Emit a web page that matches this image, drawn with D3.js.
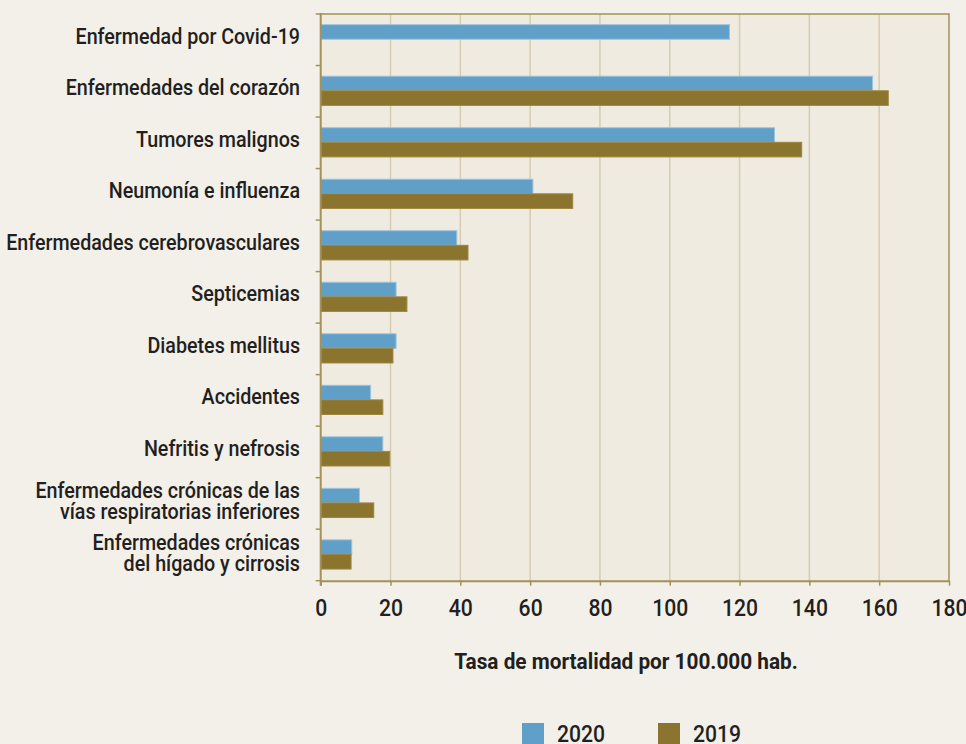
<!DOCTYPE html>
<html>
<head>
<meta charset="utf-8">
<script src="https://cdn.jsdelivr.net/npm/d3@7"></script>
<style>
  body { margin: 0; background: #f3f0e9; }
  svg { display: block; font-family: Roboto, "Liberation Sans", sans-serif; }
</style>
</head>
<body>
<svg id="chart"></svg>
<script>
// DATA
const categories = [
  "Enfermedad por Covid-19",
  "Enfermedades del corazón",
  "Tumores malignos",
  "Neumonía e influenza",
  "Enfermedades cerebrovasculares",
  "Septicemias",
  "Diabetes mellitus",
  "Accidentes",
  "Nefritis y nefrosis",
  "Enfermedades crónicas de las|vías respiratorias inferiores",
  "Enfermedades crónicas|del hígado y cirrosis"
];
const values2020 = [117.1, 158.1, 130.0, 60.8, 39.0, 21.6, 21.6, 14.3, 17.8, 11.1, 8.9];
const values2019 = [null, 162.6, 137.8, 72.2, 42.2, 24.7, 20.7, 17.8, 19.8, 15.2, 8.7];
const xTicks = [0, 20, 40, 60, 80, 100, 120, 140, 160, 180];
const seriesNames = ["2020", "2019"];
const seriesColors = ["#5f9fc8", "#8a742e"];

// SVG
const W = 966, H = 744;
const plot = { left: 320.7, right: 949, top: 14, bottom: 580.7 };
const svg = d3.select("#chart").attr("width", W).attr("height", H);

const x = d3.scaleLinear().domain([0, 180]).range([plot.left, plot.right]);
const y = d3.scaleBand().domain(categories).range([plot.top, plot.bottom]);
const barH = 14.6;

// plot background
svg.append("rect")
  .attr("x", plot.left).attr("y", plot.top)
  .attr("width", plot.right - plot.left).attr("height", plot.bottom - plot.top)
  .attr("fill", "#efebe1");

// gridlines
svg.append("g").selectAll("line")
  .data(xTicks.slice(1, -1))
  .enter().append("line")
  .attr("x1", d => x(d)).attr("x2", d => x(d))
  .attr("y1", plot.top).attr("y2", plot.bottom)
  .attr("stroke", "#d6ccb1").attr("stroke-width", 1.5);

// bars
const rows = categories.map((c, i) => ({ c, v20: values2020[i], v19: values2019[i] }));
const g = svg.append("g");
g.selectAll("rect.b20")
  .data(rows)
  .enter().append("rect")
  .attr("class", "b20")
  .attr("x", x(0))
  .attr("y", d => y(d.c) + y.bandwidth() / 2 - barH - 0.5)
  .attr("width", d => x(d.v20) - x(0))
  .attr("height", barH)
  .attr("fill", seriesColors[0])
  .attr("stroke", "#9fc4dc").attr("stroke-width", 1);

g.selectAll("rect.b19")
  .data(rows.filter(d => d.v19 != null))
  .enter().append("rect")
  .attr("class", "b19")
  .attr("x", x(0))
  .attr("y", d => y(d.c) + y.bandwidth() / 2 - 0.5)
  .attr("width", d => x(d.v19) - x(0))
  .attr("height", barH)
  .attr("fill", seriesColors[1])
  .attr("stroke", "#9c8640").attr("stroke-width", 1);

// frame top/right
svg.append("path")
  .attr("d", `M${plot.left},${plot.top}H${plot.right}V${plot.bottom}`)
  .attr("fill", "none").attr("stroke", "#a39158").attr("stroke-width", 1.5);

// x axis
const xAxis = svg.append("g")
  .attr("transform", `translate(0,${plot.bottom})`)
  .call(d3.axisBottom(x).tickValues(xTicks).tickSize(5).tickSizeOuter(0));
xAxis.select(".domain").attr("stroke", "#a39158").attr("stroke-width", 2);
xAxis.selectAll(".tick line").attr("stroke", "#a39158").attr("stroke-width", 1.5);
xAxis.selectAll(".tick text").remove();
xAxis.selectAll(".tick").append("text")
  .attr("transform", "translate(0,35) scale(0.9,1)")
  .attr("text-anchor", "middle")
  .attr("fill", "#231f20").attr("font-size", "23.5px").attr("font-weight", 500)
  .attr("font-family", "Roboto, sans-serif")
  .text(d => d);

// y axis: ticks at band boundaries
const bounds = categories.map(c => y(c)).concat([plot.bottom]);
svg.append("g").selectAll("line")
  .data(bounds)
  .enter().append("line")
  .attr("x1", plot.left - 5).attr("x2", plot.left)
  .attr("y1", d => d).attr("y2", d => d)
  .attr("stroke", "#a39158").attr("stroke-width", 1.5);
svg.append("line")
  .attr("x1", plot.left).attr("x2", plot.left)
  .attr("y1", plot.top - 1).attr("y2", plot.bottom + 5)
  .attr("stroke", "#a39158").attr("stroke-width", 2);

// category labels
const lab = svg.append("g").selectAll("text")
  .data(categories)
  .enter().append("text")
  .attr("text-anchor", "end")
  .attr("font-size", "22.5px").attr("font-weight", 500)
  .attr("fill", "#231f20")
  .attr("transform", d => {
    const n = d.split("|").length;
    const ty = y(d) + y.bandwidth() / 2 + 4 - (n - 1) * 9;
    return `translate(300,${ty}) scale(0.875,1)`;
  });
lab.each(function(d) {
  const t = d3.select(this);
  d.split("|").forEach((line, i) => {
    t.append("tspan").attr("x", 0).attr("dy", i === 0 ? 0 : 21).text(line);
  });
});

// axis title
svg.append("text")
  .attr("transform", "translate(626,669) scale(0.945,1)")
  .attr("text-anchor", "middle")
  .attr("font-size", "22px").attr("font-weight", "bold")
  .attr("fill", "#231f20")
  .text("Tasa de mortalidad por 100.000 hab.");

// legend
const legX = [522, 658];
const leg = svg.append("g").selectAll("g")
  .data(seriesNames)
  .enter().append("g")
  .attr("transform", (d, i) => `translate(${legX[i]},723)`);
leg.append("rect")
  .attr("width", 22).attr("height", 22)
  .attr("fill", (d, i) => seriesColors[i]);
leg.append("text")
  .attr("transform", "translate(35,19) scale(0.9,1)")
  .attr("font-size", "23.5px").attr("font-weight", 500).attr("fill", "#231f20")
  .text(d => d);
</script>
</body>
</html>
